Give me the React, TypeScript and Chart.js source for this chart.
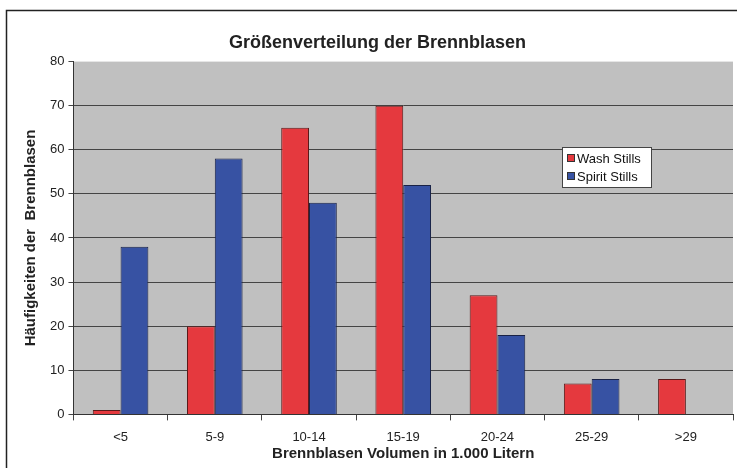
import React, { useEffect, useRef } from "react";
import { Chart, registerables } from "chart.js";

Chart.register(...registerables);

const categories = ["<5", "5-9", "10-14", "15-19", "20-24", "25-29", ">29"];
const washStills = [1, 20, 65, 70, 27, 7, 8];
const spiritStills = [38, 58, 48, 52, 18, 8, 0];
const seriesNames = ["Wash Stills", "Spirit Stills"];
const titleText = "Größenverteilung der Brennblasen";
const yTitle = "Häufigkeiten der  Brennblasen";
const xTitle = "Brennblasen Volumen in 1.000 Litern";

const FONT = "'Liberation Sans', Arial, sans-serif";

const decor = {
  id: "decor",
  beforeDraw(chart: any) {
    const { ctx, chartArea } = chart;
    ctx.save();
    ctx.fillStyle = "#ffffff";
    ctx.fillRect(0, 0, chart.width, chart.height);
    ctx.fillStyle = "#c0c0c0";
    ctx.fillRect(chartArea.left, chartArea.top, chartArea.right - chartArea.left, chartArea.bottom - chartArea.top);
    ctx.strokeStyle = "#222";
    ctx.lineWidth = 1.5;
    ctx.beginPath();
    ctx.moveTo(6.5, chart.height + 5);
    ctx.lineTo(6.5, 10.5);
    ctx.lineTo(chart.width + 5, 10.5);
    ctx.stroke();
    ctx.restore();
  },
  afterDraw(chart: any) {
    const { ctx } = chart;
    const x = 562, y = 147, w = 89, h = 40;
    ctx.save();
    ctx.fillStyle = "#ffffff";
    ctx.fillRect(x, y, w, h);
    ctx.strokeStyle = "#444";
    ctx.lineWidth = 1;
    ctx.strokeRect(x + 0.5, y + 0.5, w, h);
    ctx.font = `13px ${FONT}`;
    ctx.textBaseline = "middle";
    chart.data.datasets.forEach((ds: any, i: number) => {
      const cy = y + 11 + i * 18;
      ctx.fillStyle = ds.backgroundColor;
      ctx.fillRect(x + 5, cy - 4, 8, 8);
      ctx.strokeStyle = "#333";
      ctx.strokeRect(x + 5.5, cy - 3.5, 7, 7);
      ctx.fillStyle = "#111";
      ctx.fillText(ds.label, x + 15, cy + 1);
    });
    ctx.restore();
  },
};

export default function App() {
  const ref = useRef<HTMLCanvasElement>(null);
  useEffect(() => {
    document.body.style.margin = "0";
    const chart = new Chart(ref.current!, {
      type: "bar",
      data: {
        labels: categories,
        datasets: [
          { label: seriesNames[0], data: washStills, backgroundColor: "#e5393e", borderColor: "#5a1a1a", borderWidth: 1 },
          { label: seriesNames[1], data: spiritStills, backgroundColor: "#3752a3", borderColor: "#1a2347", borderWidth: 1 },
        ],
      },
      options: {
        animation: false,
        responsive: false,
        layout: { padding: { top: 32, left: 22, right: 4, bottom: 5 } },
        datasets: { bar: { categoryPercentage: 0.59, barPercentage: 1 } },
        plugins: {
          legend: { display: false },
          tooltip: { enabled: false },
          title: {
            display: true,
            text: titleText,
            color: "#222",
            font: { family: FONT, size: 18, weight: "bold" },
            padding: { top: 0, bottom: 8 },
          },
        },
        scales: {
          x: {
            grid: { drawOnChartArea: false, drawTicks: true, tickLength: 6, color: "#444", offset: true },
            border: { color: "#333", width: 1 },
            ticks: { color: "#222", font: { family: FONT, size: 13 }, padding: 9 },
            title: { display: true, text: xTitle, color: "#222", font: { family: FONT, size: 15, weight: "bold" }, padding: { top: -9, bottom: 0 } },
          },
          y: {
            min: 0,
            max: 80,
            ticks: { stepSize: 10, color: "#222", font: { family: FONT, size: 13 }, padding: 4 },
            grid: { color: (c: any) => (c.tick && c.tick.value === 80 ? "rgba(0,0,0,0)" : "#444"), tickColor: "#444", tickLength: 5 },
            border: { color: "#333", width: 1 },
            title: { display: true, text: yTitle, color: "#222", font: { family: FONT, size: 15, weight: "bold" }, padding: { top: 0, bottom: 6 } },
          },
        },
      },
      plugins: [decor],
    });
    return () => chart.destroy();
  }, []);
  return <canvas ref={ref} width={737} height={468} style={{ display: "block" }} />;
}
